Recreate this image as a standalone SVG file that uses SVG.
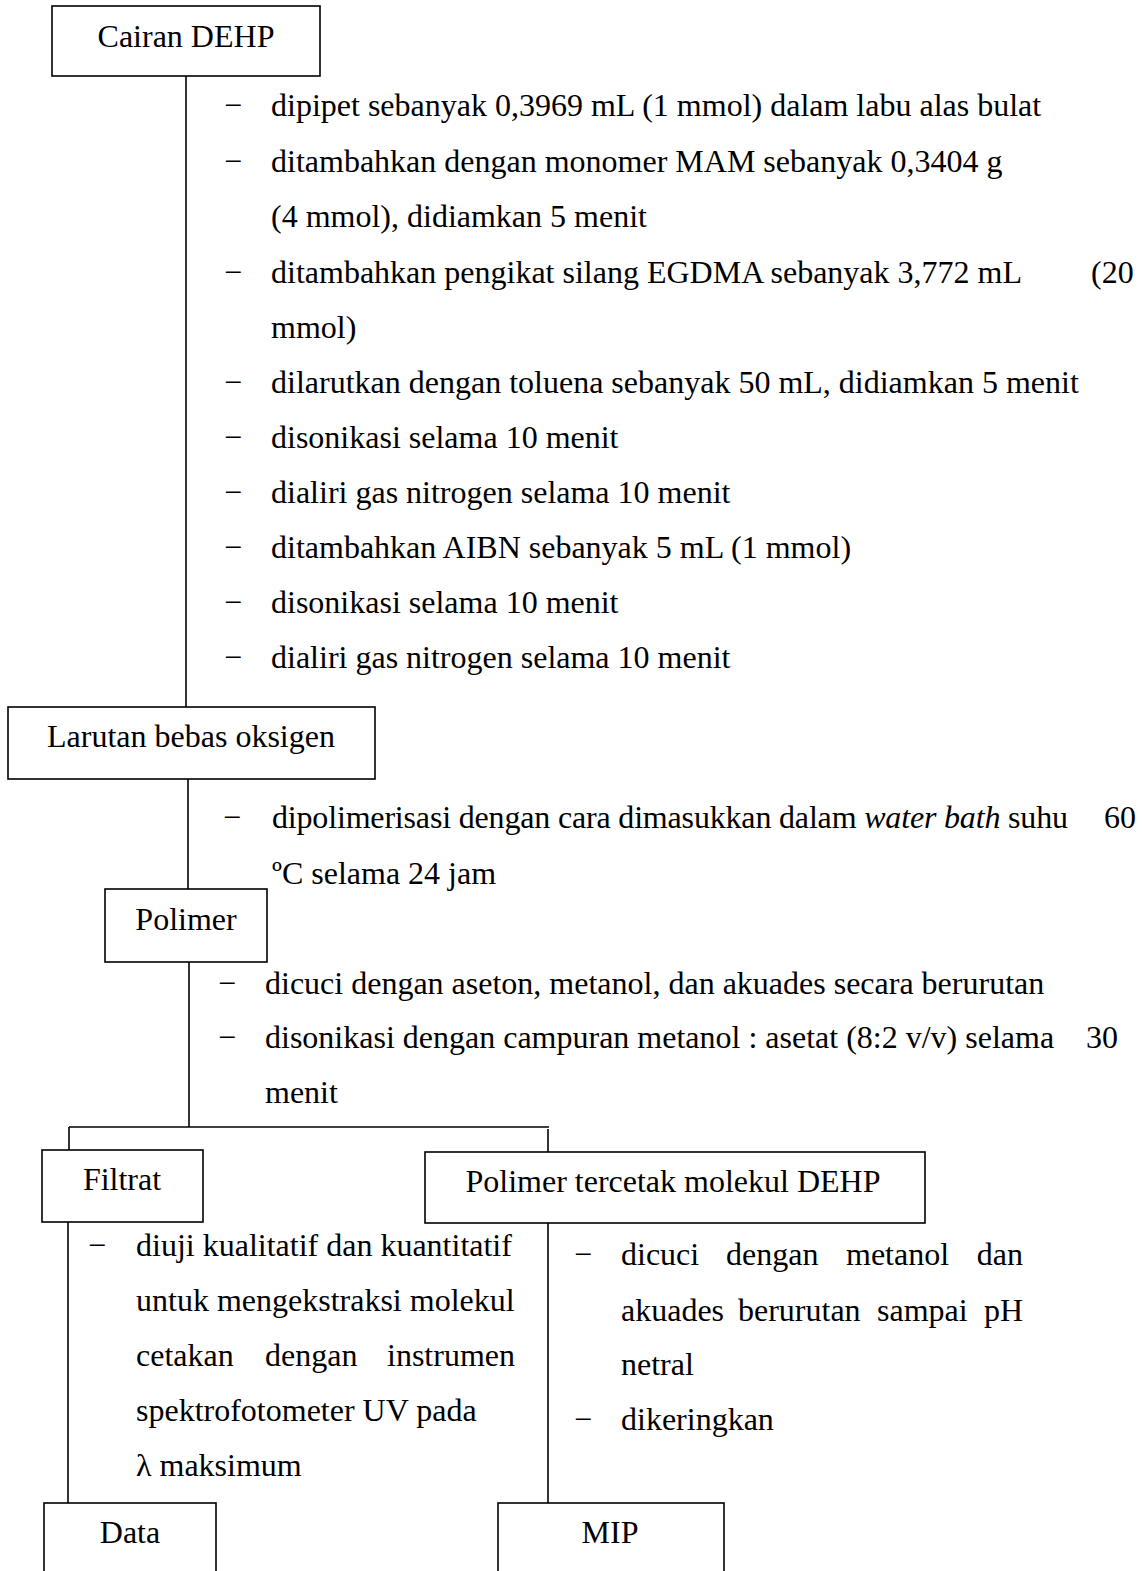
<svg xmlns="http://www.w3.org/2000/svg" width="1146" height="1571" viewBox="0 0 1146 1571">
<style>
text{font-family:"Liberation Serif","Times New Roman",serif;font-size:32px;fill:#000}
.c{text-anchor:middle}
.e{text-anchor:end}
.box{fill:#fff;stroke:#000;stroke-width:1.6}
.ln{fill:none;stroke:#000;stroke-width:1.6}
</style>
<rect width="1146" height="1571" fill="#fff"/>
<g id="connectors">
<path class="ln" d="M186 76V707"/>
<path class="ln" d="M188 779V889"/>
<path class="ln" d="M189 962V1127"/>
<path class="ln" d="M69 1127H549"/>
<path class="ln" d="M69 1127V1150"/>
<path class="ln" d="M548 1129V1152"/>
<path class="ln" d="M68 1222V1503"/>
<path class="ln" d="M548 1223V1503"/>
</g>
<g id="n-cairan"><rect class="box" x="52" y="6" width="268" height="70"/><text class="c" x="186" y="47">Cairan DEHP</text></g>
<g id="steps1">
<text x="224" y="116">−</text><text x="271" y="116">dipipet sebanyak 0,3969 mL (1 mmol) dalam labu alas bulat</text>
<text x="224" y="172">−</text><text x="271" y="172">ditambahkan dengan monomer MAM sebanyak 0,3404 g</text>
<text x="271" y="227">(4 mmol), didiamkan 5 menit</text>
<text x="224" y="283">−</text><text x="271" y="283">ditambahkan pengikat silang EGDMA sebanyak 3,772 mL</text><text x="1091" y="283">(20</text>
<text x="271" y="338">mmol)</text>
<text x="224" y="393">−</text><text x="271" y="393">dilarutkan dengan toluena sebanyak 50 mL, didiamkan 5 menit</text>
<text x="224" y="448">−</text><text x="271" y="448">disonikasi selama 10 menit</text>
<text x="224" y="503">−</text><text x="271" y="503">dialiri gas nitrogen selama 10 menit</text>
<text x="224" y="558">−</text><text x="271" y="558">ditambahkan AIBN sebanyak 5 mL (1 mmol)</text>
<text x="224" y="613">−</text><text x="271" y="613">disonikasi selama 10 menit</text>
<text x="224" y="668">−</text><text x="271" y="668">dialiri gas nitrogen selama 10 menit</text>
</g>
<g id="n-larutan"><rect class="box" x="8" y="707" width="367" height="72"/><text class="c" x="191" y="747">Larutan bebas oksigen</text></g>
<g id="steps2">
<text x="223" y="828">−</text><text x="272" y="828" textLength="796" lengthAdjust="spacing">dipolimerisasi dengan cara dimasukkan dalam <tspan font-style="italic">water bath</tspan> suhu</text><text x="1104" y="828">60</text>
<text x="272" y="884">ºC selama 24 jam</text>
</g>
<g id="n-polimer"><rect class="box" x="105" y="889" width="162" height="73"/><text class="c" x="186" y="930">Polimer</text></g>
<g id="steps3">
<text x="218" y="994">−</text><text x="265" y="994">dicuci dengan aseton, metanol, dan akuades secara berurutan</text>
<text x="218" y="1048">−</text><text x="265" y="1048">disonikasi dengan campuran metanol : asetat (8:2 v/v) selama</text><text x="1086" y="1048">30</text>
<text x="265" y="1103">menit</text>
</g>
<g id="n-filtrat"><rect class="box" x="42" y="1150" width="161" height="72"/><text class="c" x="122" y="1190">Filtrat</text></g>
<g id="n-tercetak"><rect class="box" x="425" y="1152" width="500" height="71"/><text class="c" x="673" y="1192">Polimer tercetak molekul DEHP</text></g>
<g id="steps4">
<text x="88" y="1256">−</text><text x="136" y="1256">diuji kualitatif dan kuantitatif</text>
<text x="136" y="1311">untuk mengekstraksi molekul</text>
<text x="136" y="1366">cetakan</text><text x="265" y="1366">dengan</text><text class="e" x="515" y="1366">instrumen</text>
<text x="136" y="1421">spektrofotometer UV pada</text>
<text x="136" y="1476">λ maksimum</text>
</g>
<g id="steps5">
<text x="574" y="1265">−</text><text x="621" y="1265">dicuci</text><text x="726" y="1265">dengan</text><text x="846" y="1265">metanol</text><text class="e" x="1023" y="1265">dan</text>
<text x="621" y="1321">akuades</text><text x="738" y="1321">berurutan</text><text x="877" y="1321">sampai</text><text class="e" x="1023" y="1321">pH</text>
<text x="621" y="1375">netral</text>
<text x="574" y="1430">−</text><text x="621" y="1430">dikeringkan</text>
</g>
<g id="n-data"><rect class="box" x="44" y="1503" width="172" height="100"/><text class="c" x="130" y="1543">Data</text></g>
<g id="n-mip"><rect class="box" x="498" y="1503" width="226" height="100"/><text class="c" x="610" y="1543">MIP</text></g>
</svg>
